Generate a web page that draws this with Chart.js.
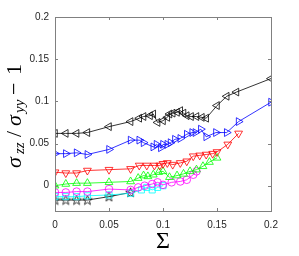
<!DOCTYPE html>
<html>
<head>
<meta charset="utf-8">
<script src="https://cdn.jsdelivr.net/npm/chart.js@4/dist/chart.umd.min.js"></script>
<style>
  body { margin: 0; background: #fff; }
  canvas { display: block; }
</style>
</head>
<body>
<canvas id="myChart" width="299" height="256"></canvas>
<script>
// valores
const xTicks = [0, 0.05, 0.1, 0.15, 0.2];
const xTickLabels = ["0", "0.05", "0.1", "0.15", "0.2"];
const yTicks = [0, 0.05, 0.1, 0.15, 0.2];
const yTickLabels = ["0", "0.05", "0.1", "0.15", "0.2"];

const negroX = [0, 0.01, 0.02, 0.03, 0.05, 0.07, 0.078, 0.082, 0.088, 0.091, 0.095, 0.1, 0.104, 0.106, 0.109, 0.113, 0.116, 0.119, 0.122, 0.126, 0.131, 0.136, 0.14, 0.15, 0.159, 0.168, 0.2];
const negroY = [0.062, 0.062, 0.062, 0.063, 0.070, 0.076, 0.080, 0.082, 0.083, 0.085, 0.075, 0.077, 0.081, 0.085, 0.086, 0.087, 0.089, 0.086, 0.083, 0.082, 0.082, 0.081, 0.080, 0.095, 0.106, 0.111, 0.127];

const azulX = [0, 0.01, 0.02, 0.03, 0.05, 0.07, 0.078, 0.082, 0.091, 0.094, 0.098, 0.1, 0.104, 0.107, 0.111, 0.116, 0.122, 0.127, 0.13, 0.135, 0.14, 0.149, 0.159, 0.17, 0.2];
const azulY = [0.038, 0.038, 0.039, 0.037, 0.043, 0.054, 0.054, 0.051, 0.046, 0.049, 0.045, 0.049, 0.049, 0.051, 0.055, 0.056, 0.061, 0.063, 0.063, 0.067, 0.058, 0.063, 0.063, 0.076, 0.099];

const rojoX = [0, 0.01, 0.02, 0.03, 0.05, 0.07, 0.078, 0.085, 0.092, 0.097, 0.1, 0.104, 0.109, 0.116, 0.122, 0.128, 0.134, 0.14, 0.146, 0.15, 0.16, 0.17];
const rojoY = [0.016, 0.015, 0.015, 0.018, 0.019, 0.020, 0.024, 0.024, 0.024, 0.024, 0.026, 0.027, 0.025, 0.027, 0.029, 0.035, 0.036, 0.037, 0.038, 0.040, 0.049, 0.062];

const verdeX = [0, 0.01, 0.02, 0.03, 0.05, 0.07, 0.077, 0.082, 0.086, 0.091, 0.096, 0.1, 0.106, 0.113, 0.119, 0.125, 0.131, 0.137, 0.143, 0.15];
const verdeY = [0.0, 0.002, 0.003, 0.003, 0.004, 0.005, 0.009, 0.012, 0.011, 0.013, 0.016, 0.017, 0.010, 0.012, 0.014, 0.017, 0.019, 0.023, 0.028, 0.033];

const magentaX = [0, 0.01, 0.02, 0.03, 0.05, 0.07, 0.077, 0.083, 0.09, 0.095, 0.1, 0.108, 0.116, 0.122, 0.128, 0.131];
const magentaY = [-0.008, -0.008, -0.007, -0.007, -0.004, -0.005, -0.002, 0.0, 0.002, 0.004, 0.001, 0.004, 0.005, 0.007, 0.013, 0.017];

const cianX = [0, 0.01, 0.02, 0.03, 0.05, 0.07, 0.08, 0.085, 0.09, 0.095, 0.1];
const cianY = [-0.013, -0.013, -0.013, -0.012, -0.011, -0.009, -0.005, -0.002, -0.005, -0.002, 0.0];

const estrellaX = [0, 0.01, 0.02, 0.03, 0.05, 0.07];
const estrellaY = [-0.017, -0.017, -0.017, -0.017, -0.013, -0.008];

const pares = (xs, ys) => xs.map((x, i) => ({ x: x, y: ys[i] }));

// estrella de cinco puntas (pentagrama) como en matlab
function crearEstrella(color) {
  const c = document.createElement("canvas");
  c.width = 11;
  c.height = 11;
  const g = c.getContext("2d");
  g.strokeStyle = color;
  g.lineWidth = 0.8;
  g.beginPath();
  for (let i = 0; i < 10; i++) {
    const r = i % 2 === 0 ? 5 : 2.1;
    const a = -Math.PI / 2 + (i * Math.PI) / 5;
    const px = 5.5 + r * Math.cos(a);
    const py = 5.8 + r * Math.sin(a);
    if (i === 0) g.moveTo(px, py);
    else g.lineTo(px, py);
  }
  g.closePath();
  g.stroke();
  return c;
}

function serie(xs, ys, color, estilo, rot, radio) {
  return {
    data: pares(xs, ys),
    showLine: true,
    borderColor: color,
    borderWidth: 0.8,
    pointStyle: estilo,
    pointRotation: rot,
    pointRadius: radio,
    pointBorderColor: color,
    pointBorderWidth: 0.8,
    pointBackgroundColor: "rgba(0,0,0,0)",
  };
}

const datasets = [
  serie(negroX, negroY, "#000000", "triangle", -90, 4.5),
  serie(azulX, azulY, "#0000ff", "triangle", 90, 4.5),
  serie(rojoX, rojoY, "#ff0000", "triangle", 180, 4.5),
  serie(verdeX, verdeY, "#00ff00", "triangle", 0, 4.5),
  serie(magentaX, magentaY, "#ff00ff", "circle", 0, 3.8),
  serie(cianX, cianY, "#00ffff", "rect", 0, 4.3),
  serie(estrellaX, estrellaY, "#000000", crearEstrella("#000000"), 0, 5),
];

const ejes = {
  id: "ejes",
  afterDraw(chart) {
    const ctx = chart.ctx;
    const a = chart.chartArea;
    const sx = chart.scales.x;
    const sy = chart.scales.y;
    ctx.save();
    ctx.strokeStyle = "#808080";
    ctx.lineWidth = 1;
    ctx.strokeRect(a.left + 0.5, a.top + 0.5, a.right - a.left, a.bottom - a.top);
    ctx.beginPath();
    xTicks.forEach((v) => {
      const px = Math.round(sx.getPixelForValue(v)) + 0.5;
      ctx.moveTo(px, a.bottom);
      ctx.lineTo(px, a.bottom - 3);
      ctx.moveTo(px, a.top);
      ctx.lineTo(px, a.top + 3);
    });
    yTicks.forEach((v) => {
      const py = Math.round(sy.getPixelForValue(v)) + 0.5;
      ctx.moveTo(a.left, py);
      ctx.lineTo(a.left + 3, py);
      ctx.moveTo(a.right, py);
      ctx.lineTo(a.right - 3, py);
    });
    ctx.stroke();

    // titulo eje x
    ctx.fillStyle = "#000";
    ctx.font = "24px 'Liberation Serif'";
    ctx.textAlign = "center";
    ctx.textBaseline = "alphabetic";
    ctx.fillText("Σ", (a.left + a.right) / 2, 248);

    // titulo eje y: sigma_zz / sigma_yy - 1, de abajo (y=168) hacia arriba
    const partes = [
      { t: "σ", f: "italic 22px 'Liberation Serif'", x: 0, dy: 0 },
      { t: "zz", f: "italic 15px 'Liberation Serif'", x: 14, dy: 3 },
      { t: "/", f: "22px 'Liberation Serif'", x: 31, dy: 0 },
      { t: "σ", f: "italic 22px 'Liberation Serif'", x: 42, dy: 0 },
      { t: "yy", f: "italic 15px 'Liberation Serif'", x: 55, dy: 3 },
      { t: "−", f: "22px 'Liberation Serif'", x: 73, dy: 0 },
      { t: "1", f: "22px 'Liberation Serif'", x: 93, dy: 0 },
    ];
    ctx.setTransform(0, -1, 1, 0, 21, 168);
    ctx.textAlign = "left";
    partes.forEach((p) => {
      ctx.font = p.f;
      ctx.fillText(p.t, p.x, p.dy);
    });
    ctx.restore();
  },
};

const fuenteTicks = { family: "'Liberation Sans', Arial, sans-serif", size: 10 };

new Chart(document.getElementById("myChart"), {
  type: "scatter",
  data: { datasets },
  options: {
    responsive: false,
    animation: false,
    layout: { padding: { top: 17, right: 28, left: 0, bottom: 0 } },
    plugins: { legend: { display: false }, tooltip: { enabled: false } },
    scales: {
      x: {
        type: "linear",
        min: 0,
        max: 0.2,
        afterBuildTicks: (s) => { s.ticks = xTicks.map((v) => ({ value: v })); },
        afterFit: (s) => { s.height = 45; },
        grid: { display: false, drawTicks: false },
        border: { display: false },
        ticks: {
          padding: 8,
          autoSkip: false,
          maxRotation: 0,
          color: "#262626",
          font: fuenteTicks,
          callback: (v, i) => xTickLabels[i],
        },
      },
      y: {
        type: "linear",
        min: -0.03,
        max: 0.2,
        afterBuildTicks: (s) => { s.ticks = yTicks.map((v) => ({ value: v })); },
        afterFit: (s) => { s.width = 55; },
        grid: { display: false, drawTicks: false },
        border: { display: false },
        ticks: {
          padding: 6,
          color: "#262626",
          font: fuenteTicks,
          callback: (v, i) => yTickLabels[i],
        },
      },
    },
  },
  plugins: [ejes],
});
</script>
</body>
</html>
